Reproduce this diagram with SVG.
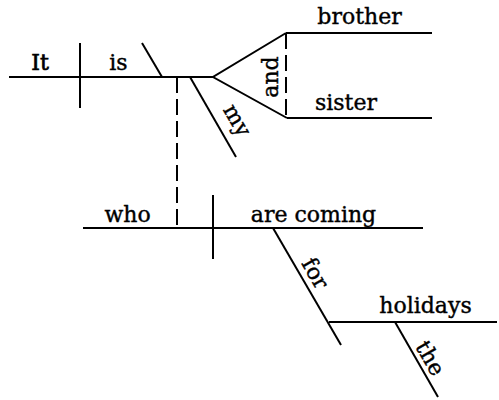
<svg xmlns="http://www.w3.org/2000/svg" width="499" height="400" viewBox="0 0 499 400">
<style>
.l{stroke:#000;stroke-width:2;fill:none;stroke-linecap:butt}
.d{stroke:#000;stroke-width:2;fill:none;stroke-dasharray:16 6}
text{font-family:"DejaVu Serif","Liberation Serif",serif;font-size:22px;fill:#000;stroke:#000;stroke-width:0.4;text-anchor:middle}
</style>
<rect width="499" height="400" fill="#fff"/>
<g id="connectors">
<line class="l" x1="9" y1="77" x2="213" y2="77"/>
<line class="l" x1="80" y1="43" x2="80" y2="108"/>
<line class="l" x1="142" y1="43" x2="162" y2="77"/>
<line class="l" x1="190" y1="77" x2="236" y2="157"/>
<polyline class="l" points="286,33 213,77 287,118"/>
<line class="d" x1="286" y1="33" x2="286" y2="118"/>
<line class="d" x1="177" y1="77" x2="177" y2="228"/>
<line class="l" x1="83" y1="228" x2="423" y2="228"/>
<line class="l" x1="213" y1="195" x2="213" y2="259"/>
<line class="l" x1="273" y1="228" x2="341" y2="345"/>
<line class="l" x1="329" y1="322" x2="497" y2="322"/>
<line class="l" x1="395" y1="322" x2="438" y2="397"/>
</g>
<g id="it"><text x="40" y="70" style="stroke-width:0.7">It</text></g>
<g id="is"><text x="118.5" y="70">is</text></g>
<g id="brother"><line class="l" x1="286" y1="33" x2="432" y2="33"/><text x="359.5" y="24">brother</text></g>
<g id="sister"><line class="l" x1="287" y1="118" x2="432" y2="118"/><text x="346" y="110">sister</text></g>
<g id="and"><text transform="translate(278,77) rotate(-90)">and</text></g>
<g id="my"><text transform="translate(190,77) rotate(60)" x="61" y="-12">my</text></g>
<g id="who"><text x="127.5" y="222">who</text></g>
<g id="are-coming"><text x="313.5" y="222">are coming</text></g>
<g id="for"><text transform="translate(273,228) rotate(60)" x="60.5" y="-6.5">for</text></g>
<g id="holidays"><text x="425.5" y="313">holidays</text></g>
<g id="the"><text transform="translate(395,322) rotate(60)" x="49" y="-5">the</text></g>
</svg>
